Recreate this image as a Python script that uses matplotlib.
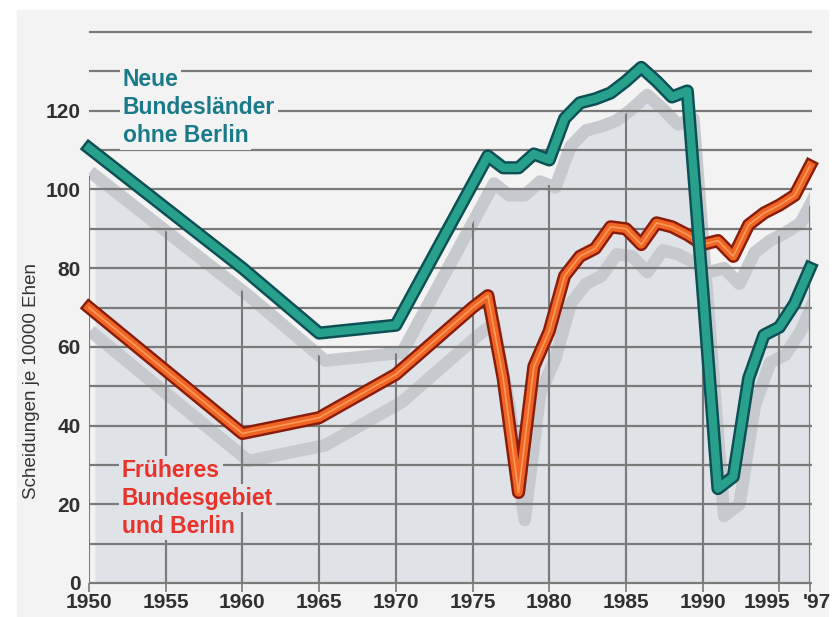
import matplotlib.pyplot as plt
from matplotlib.patches import Rectangle
from matplotlib.transforms import ScaledTranslation
import numpy as np

# Früheres Bundesgebiet und Berlin
years_west = [1950, 1960, 1965, 1970, 1975, 1976, 1977, 1978, 1979, 1980, 1981, 1982, 1983,
              1984, 1985, 1986, 1987, 1988, 1989, 1990, 1991, 1992, 1993, 1994, 1995, 1996, 1997]
vals_west = [70, 38, 42, 53, 70, 73, 52, 23, 55, 64, 78, 83, 85,
             90.5, 90, 86, 91.5, 90.5, 88.5, 86, 87, 83, 91, 94, 96, 98.5, 106]

# Neue Bundesländer ohne Berlin
years_east = [1950, 1960, 1965, 1970, 1976, 1977, 1978, 1979, 1980, 1981, 1982, 1983, 1984,
              1985, 1986, 1987, 1988, 1989, 1990, 1991, 1992, 1993, 1994, 1995, 1996, 1997]
vals_east = [110.5, 80, 63.5, 65.5, 108.5, 105.5, 105.5, 109, 107.5, 118, 122, 123, 124.5,
             127.5, 131, 127.5, 123.5, 125, 75, 24, 27, 52, 63, 65, 71, 80]

xticks = [1950, 1955, 1960, 1965, 1970, 1975, 1980, 1985, 1990, 1995, 1997]
xlabels = ["1950", "1955", "1960", "1965", "1970", "1975", "1980", "1985", "1990", "1995", "'97"]
yticks = [0, 20, 40, 60, 80, 100, 120]

label_east = ["Neue", "Bundesländer", "ohne Berlin"]
label_west = ["Früheres", "Bundesgebiet", "und Berlin"]

plt.rcParams['font.family'] = ['Liberation Sans Narrow', 'Liberation Sans', 'DejaVu Sans']

page = "#f3f3f3"
fillc = "#dfe2e6"
shadowc = "#c6cacf"
gridc = "#7a7a7a"

W, H = 836, 617
fig = plt.figure(figsize=(W / 100, H / 100), dpi=100, facecolor="white")
fig.patches.append(Rectangle((17 / W, 0), (828 - 17) / W, 1 - 10 / H,
                             transform=fig.transFigure, color=page, zorder=-10))
ax = fig.add_axes([89 / W, 1 - 583 / H, (810 - 89) / W, (583 - 32) / H])
ax.patch.set_visible(False)
ax.set_xlim(1950, 1997)
ax.set_ylim(0, 140)

# shadow offset
dx, dy = 0.4, 7
polys = []
for yrs, vals in [(years_east, vals_east), (years_west, vals_west)]:
    xs = np.array(yrs) + dx
    ys = np.array(vals) - dy
    p = ax.fill_between(xs, ys, 0, color=fillc, lw=0, zorder=1)
    polys.append(p)
    ax.plot(xs, ys, color=shadowc, lw=9, solid_joinstyle="round", zorder=2)

# vertical grid only inside the shaded area
for p in polys:
    vl = ax.vlines(xticks, 0, 140, color=gridc, lw=1.5, zorder=3)
    vl.set_clip_path(p.get_paths()[0], ax.transData)
ax.vlines(1950, 0, vals_east[0] - dy, color=gridc, lw=1.5, zorder=3)

# horizontal grid lines
for v in range(0, 141, 10):
    ax.plot([1950, 1997.15], [v, v], color=gridc, lw=1.6, zorder=3, clip_on=False,
            solid_capstyle="butt")

# main lines (east on top of west)
ax.plot(years_west, vals_west, color="#8a1c0c", lw=9.5, solid_joinstyle="round",
        zorder=5, clip_on=False)
ax.plot(years_west, vals_west, color="#f06424", lw=6, solid_joinstyle="round",
        zorder=6, clip_on=False)
ax.plot(years_west, vals_west, color="#f89a5a", lw=1.2, solid_joinstyle="round",
        zorder=6.5, clip_on=False)
ax.plot(years_east, vals_east, color="#0c4f55", lw=9.5, solid_joinstyle="round",
        zorder=7, clip_on=False)
ax.plot(years_east, vals_east, color="#27a08c", lw=6, solid_joinstyle="round",
        zorder=7.5, clip_on=False)

# series labels
for i, t in enumerate(label_east):
    ax.text(1952.2, 126.3 - i * 7.1, t, color="#1b7a8a", fontsize=16.5, fontweight="bold",
            va="baseline", ha="left", zorder=8,
            bbox=dict(facecolor=page, edgecolor="none", pad=2))
for i, t in enumerate(label_west):
    ax.text(1952.15, 27 - i * 7.1, t, color="#e8322a", fontsize=16.5, fontweight="bold",
            va="baseline", ha="left", zorder=8,
            bbox=dict(facecolor=fillc, edgecolor="none", pad=2))

ax.set_xticks(xticks)
ax.set_xticklabels(xlabels)
ax.set_yticks(yticks)
ax.tick_params(axis="x", length=6.5, width=1.2, color=gridc, pad=1,
               labelsize=15, labelcolor="#303030")
ax.tick_params(axis="y", length=0, pad=6, labelsize=15, labelcolor="#303030")
for lab in ax.get_xticklabels() + ax.get_yticklabels():
    lab.set_fontweight("bold")
xl = ax.get_xticklabels()
xl[-2].set_transform(xl[-2].get_transform() + ScaledTranslation(-9 / 72, 0, fig.dpi_scale_trans))
xl[-1].set_transform(xl[-1].get_transform() + ScaledTranslation(5 / 72, 0, fig.dpi_scale_trans))
for s in ax.spines.values():
    s.set_visible(False)

fig.text(32 / W, 1 - 381 / H, "Scheidungen je 10000 Ehen", rotation=90,
         ha="center", va="center", fontsize=13.5, color="#333333",
         family=["Liberation Sans", "DejaVu Sans"])

fig.savefig("out.png", dpi=100, facecolor="white")
